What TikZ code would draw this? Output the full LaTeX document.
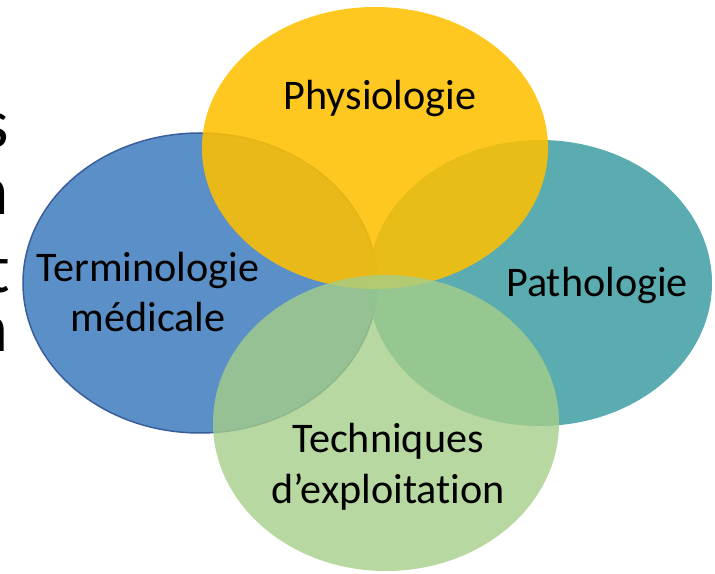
\documentclass[tikz,border=0pt]{standalone}
\usepackage{fontspec}
\setmainfont[Ligatures=NoCommon]{Carlito}
\usepackage{tikz}
\usetikzlibrary{positioning,shapes.geometric}
\definecolor{VennBlue}{HTML}{5B8FC7}
\definecolor{VennEdge}{HTML}{3A5D9C}
\definecolor{VennTeal}{HTML}{3E9EA2}
\definecolor{VennGold}{HTML}{FFC000}
\definecolor{VennGreen}{HTML}{A5CE88}

\begin{document}
\begin{tikzpicture}[x=0.3mm, y=-0.3mm,
                    venn/.style={ellipse, inner sep=0pt},
                    lbl/.style={align=center, inner sep=0pt, anchor=base,
                                font=\fontsize{36}{43}\selectfont},
                    frag/.style={anchor=base east, inner sep=0pt,
                                 font=\fontsize{60}{60}\selectfont}]
  \clip (0,0) rectangle (715,574);
  % cut-off slide text on the left
  \node[frag] (fs) at (9,148) {s};
  \node[frag, font=\fontsize{60}{60}\selectfont\bfseries] (fn) at (8,215) {n};
  \node[frag] (ft) at (10,293) {t};
  \node[frag] (fm) at (9,352) {n};
  % the four circles
  \node[venn, draw=VennEdge, line width=0.45mm, fill=VennBlue,
        minimum width=106.2mm, minimum height=90mm] (term) at (200,283) {};
  \node[venn, fill=VennTeal, fill opacity=0.85,
        minimum width=103.2mm, minimum height=85.8mm] (patho) at (540,283) {};
  \node[venn, fill=VennGold, fill opacity=0.87,
        minimum width=103.8mm, minimum height=84.6mm] (physio) at (375,148) {};
  \node[venn, fill=VennGreen, fill opacity=0.8,
        minimum width=103.8mm, minimum height=88.8mm] (tech) at (386,423) {};
  % labels (base = last line)
  \node[lbl] (physiotxt) at (380,110) {Physiologie};
  \node[lbl] (termtxt) at (148,332) {Terminologie\\médicale};
  \node[lbl] (pathotxt) at (597,297) {Pathologie};
  \node[lbl] (techtxt) at (388,503) {Techniques\\d’exploitation};
\end{tikzpicture}
\end{document}
